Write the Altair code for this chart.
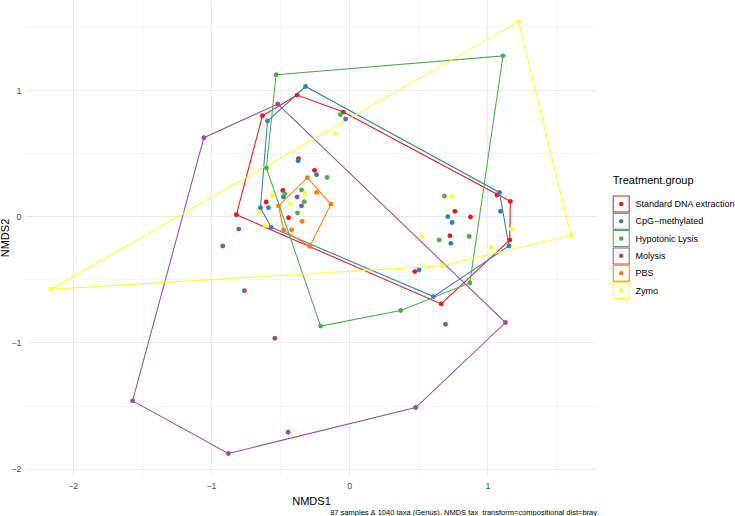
import altair as alt
import pandas as pd

groups = ["Standard DNA extraction", "CpG−methylated", "Hypotonic Lysis", "Molysis", "PBS", "Zymo"]
colors = ["#E41A1C", "#377EB8", "#4DAF4A", "#984EA3", "#FF7F00", "#FFFF33"]

std_x = [-0.377, -0.043, -0.628, -0.367, -0.251, -0.480, -0.601, -0.816, -0.439, 1.068, 1.165, 0.764, 0.877, 0.728, 1.161, 0.474, 0.665]
std_y = [0.962, 0.827, 0.798, 0.457, 0.365, 0.206, 0.114, 0.013, -0.010, 0.170, 0.119, 0.040, -0.005, -0.153, -0.187, -0.438, -0.694]

cpg_x = [-0.316, -0.591, -0.026, -0.370, -0.236, -0.475, -0.642, -0.584, -0.565, 1.087, 1.094, 0.713, 0.744, 0.735, 1.155, 0.505, 0.609]
cpg_y = [1.030, 0.756, 0.772, 0.441, 0.330, 0.154, 0.069, 0.069, -0.087, 0.190, 0.041, -0.002, -0.048, -0.214, -0.235, -0.425, -0.636]

hyp_x = [-0.529, 1.112, -0.064, -0.599, -0.160, -0.466, -0.345, -0.326, -0.374, 0.688, 0.867, 0.650, 0.872, 0.372, -0.207]
hyp_y = [1.123, 1.273, 0.806, 0.384, 0.308, 0.180, 0.210, 0.116, 0.028, 0.162, -0.158, -0.187, -0.528, -0.747, -0.870]

mol_x = [-0.517, -1.051, -0.377, -0.345, -0.799, -0.915, -0.758, -0.538, -1.567, -0.874, -0.442, 0.481, 1.130, 0.696]
mol_y = [0.891, 0.624, 0.154, 0.083, -0.101, -0.235, -0.589, -0.967, -1.463, -1.880, -1.712, -1.516, -0.842, -0.856]

pbs_x = [-0.303, -0.236, -0.133, -0.511, -0.341, -0.475, -0.417, -0.285]
pbs_y = [0.307, 0.190, 0.097, 0.083, -0.040, -0.109, -0.107, -0.238]

zymo_x = [1.225, -0.104, -0.555, -0.319, -0.428, -0.653, -0.609, 0.741, 1.172, 0.520, 1.025, 0.670, 1.603, -2.157]
zymo_y = [1.545, 0.658, 0.168, 0.180, 0.101, 0.033, -0.072, 0.162, -0.101, -0.166, -0.248, -0.391, -0.151, -0.578]

tick_values = [-2, -1.5, -1, -0.5, 0, 0.5, 1, 1.5]
caption = "87 samples & 1040 taxa (Genus). NMDS tax_transform=compositional dist=bray"

series = [(std_x, std_y), (cpg_x, cpg_y), (hyp_x, hyp_y), (mol_x, mol_y), (pbs_x, pbs_y), (zymo_x, zymo_y)]


def convex_hull(pts):
    pts = sorted(set(pts))
    if len(pts) <= 2:
        return pts

    def cross(o, a, b):
        return (a[0] - o[0]) * (b[1] - o[1]) - (a[1] - o[1]) * (b[0] - o[0])

    lower = []
    for p in pts:
        while len(lower) >= 2 and cross(lower[-2], lower[-1], p) <= 0:
            lower.pop()
        lower.append(p)
    upper = []
    for p in reversed(pts):
        while len(upper) >= 2 and cross(upper[-2], upper[-1], p) <= 0:
            upper.pop()
        upper.append(p)
    return lower[:-1] + upper[:-1]


point_rows = []
hull_rows = []
for g, (xs, ys) in zip(groups, series):
    for x, y in zip(xs, ys):
        point_rows.append({"group": g, "x": x, "y": y})
    hull = convex_hull(list(zip(xs, ys)))
    hull = hull + [hull[0]]
    for i, (x, y) in enumerate(hull):
        hull_rows.append({"group": g, "x": x, "y": y, "order": i})

points = pd.DataFrame(point_rows)
hulls = pd.DataFrame(hull_rows)

FONT = "Liberation Sans"
grid_w = {"condition": {"test": "datum.value % 1 === 0", "value": 1.0}, "value": 0.5}
label_expr = "datum.value % 1 === 0 ? format(datum.value, 'd') : ''"


def make_axis(title_pad, label_pad, **kw):
    return alt.Axis(
        values=tick_values,
        labelExpr=label_expr,
        domain=False,
        ticks=False,
        grid=True,
        gridColor="#EBEBEB",
        gridWidth=grid_w,
        labelFont=FONT,
        labelFontSize=8.8,
        labelColor="#4D4D4D",
        labelPadding=label_pad,
        titleFont=FONT,
        titleFontSize=11,
        titleFontWeight="normal",
        titleColor="black",
        titlePadding=title_pad,
        labelOverlap=False,
        **kw,
    )


xenc = alt.X("x:Q", title="NMDS1",
             scale=alt.Scale(domain=[-2.345, 1.792], nice=False, zero=False),
             axis=make_axis(6, 6))
yenc = alt.Y("y:Q", title="NMDS2",
             scale=alt.Scale(domain=[-2.051, 1.716], nice=False, zero=False),
             axis=make_axis(3, 4, titleX=-14.5, titleY=237.5))

color_scale = alt.Scale(domain=groups, range=colors)

symbol_path = ("M-1,-1H1V1H-1Z "
               "M-0.88,-0.88V0.88H0.88V-0.88Z "
               "M-0.27,0A0.27,0.27,0,1,0,0.27,0A0.27,0.27,0,1,0,-0.27,0Z")

legend = alt.Legend(
    title="Treatment.group",
    orient="none",
    legendX=587.7,
    legendY=175,
    symbolType=symbol_path,
    symbolSize=289,
    symbolStrokeWidth=0,
    symbolOpacity=1,
    labelFont=FONT,
    labelFontSize=9,
    labelColor="black",
    labelOffset=5.7,
    rowPadding=0.3,
    padding=0,
    titleFont=FONT,
    titleFontSize=11,
    titleFontWeight="normal",
    titleColor="black",
    titlePadding=9.5,
    labelLimit=300,
)

lines = alt.Chart(hulls).mark_line(strokeWidth=1.05).encode(
    x=xenc,
    y=yenc,
    stroke=alt.Stroke("group:N", scale=color_scale, legend=legend),
    detail="group:N",
    order="order:Q",
)

dots = alt.Chart(points).mark_circle(size=24, opacity=1).encode(
    x=xenc,
    y=yenc,
    fill=alt.Fill("group:N", scale=color_scale, legend=legend),
)

chart = alt.layer(lines, dots).properties(
    width=572,
    height=475,
    autosize=alt.AutoSizeParams(type="none"),
    padding={"left": 25, "top": 0, "right": 138, "bottom": 41},
    background="white",
    title=alt.TitleParams(
        text=caption,
        orient="bottom",
        anchor="end",
        frame="group",
        font=FONT,
        fontSize=7.5,
        fontWeight="normal",
        color="black",
        offset=2.5,
    ),
).configure_view(stroke=None)

chart.save("out.html", embed_options={"renderer": "svg", "actions": False})
